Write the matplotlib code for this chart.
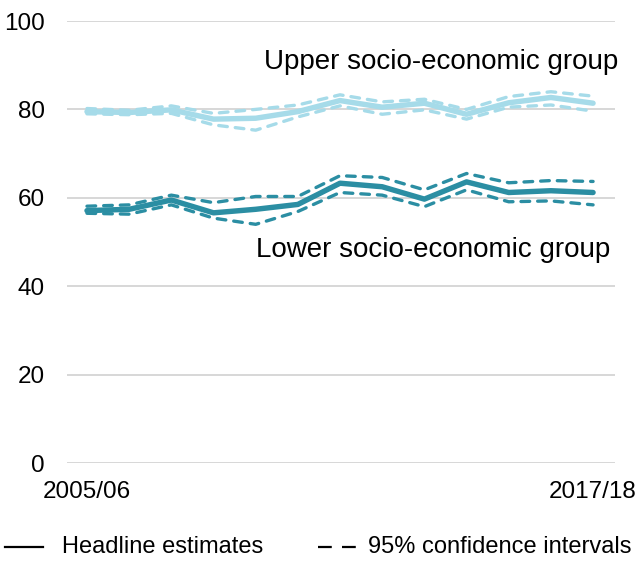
import matplotlib.pyplot as plt
import numpy as np
from matplotlib.lines import Line2D

plt.rcParams['font.family'] = ['Liberation Sans', 'DejaVu Sans']

years = ['2005/06', '2006/07', '2007/08', '2008/09', '2009/10', '2010/11', '2011/12',
         '2012/13', '2013/14', '2014/15', '2015/16', '2016/17', '2017/18']

upper = [79.5, 79.3, 79.9, 77.8, 78.0, 79.5, 82.0, 80.5, 81.4, 78.9, 81.5, 82.7, 81.4]
upper_hi = [80.2, 79.8, 80.8, 79.1, 80.0, 81.0, 83.3, 81.7, 82.3, 80.0, 82.9, 84.0, 83.0]
upper_lo = [79.0, 78.8, 79.1, 76.5, 75.3, 78.3, 80.8, 78.9, 79.9, 77.8, 80.5, 81.0, 79.6]

lower = [57.1, 57.4, 59.5, 56.6, 57.4, 58.5, 63.3, 62.5, 59.7, 63.6, 61.2, 61.6, 61.2]
lower_hi = [58.1, 58.4, 60.6, 58.9, 60.3, 60.3, 65.0, 64.6, 61.8, 65.5, 63.4, 63.9, 63.7]
lower_lo = [56.5, 56.3, 58.4, 55.4, 54.0, 56.9, 61.2, 60.6, 58.0, 61.8, 59.1, 59.3, 58.4]

light = '#a6dbe9'
dark = '#2b8ea3'

fig = plt.figure(figsize=(6.37, 5.63), dpi=100)
ax = fig.add_axes([67 / 637, 100 / 563, 548 / 637, 442 / 563])

x = np.arange(len(years))
dash = (0, (2.6, 2.4))
for mid, hi, lo, col in [(upper, upper_hi, upper_lo, light), (lower, lower_hi, lower_lo, dark)]:
    ax.plot(x, hi, color=col, lw=2.4, linestyle=dash, dash_capstyle='round')
    ax.plot(x, lo, color=col, lw=2.4, linestyle=dash, dash_capstyle='round')
    ax.plot(x, mid, color=col, lw=3.9, solid_capstyle='round', solid_joinstyle='round')

ax.set_xlim(-0.474, 12.52)
ax.set_ylim(0, 100)
ax.set_yticks(range(0, 101, 20))
ax.set_xticks([0, 12])
ax.set_xticklabels([years[0], years[-1]])
ax.yaxis.grid(True, color='#d4d4d4', lw=1.3)
ax.set_axisbelow(True)
for s in ax.spines.values():
    s.set_visible(False)
ax.tick_params(length=0, labelsize=17.5, colors='#000000')
ax.tick_params(axis='y', pad=16)
ax.tick_params(axis='x', pad=13)

ax.text(12.6, 90.7, 'Upper socio-economic group', ha='right', va='center', fontsize=20)
ax.text(12.4, 48.3, 'Lower socio-economic group', ha='right', va='center', fontsize=20)

# legend drawn by hand along the bottom edge
ly = 1 - 547 / 563
fig.add_artist(Line2D([5 / 637, 43 / 637], [ly, ly], color='black', lw=1.6,
                      transform=fig.transFigure))
fig.text(62 / 637, ly, 'Headline estimates', va='center', fontsize=17)
fig.add_artist(Line2D([318 / 637, 356 / 637], [ly, ly], color='black', lw=1.6,
                      linestyle=(0, (6.2, 4.6)), transform=fig.transFigure))
fig.text(368 / 637, ly, '95% confidence intervals', va='center', fontsize=17)

fig.savefig('out.png', dpi=100)
